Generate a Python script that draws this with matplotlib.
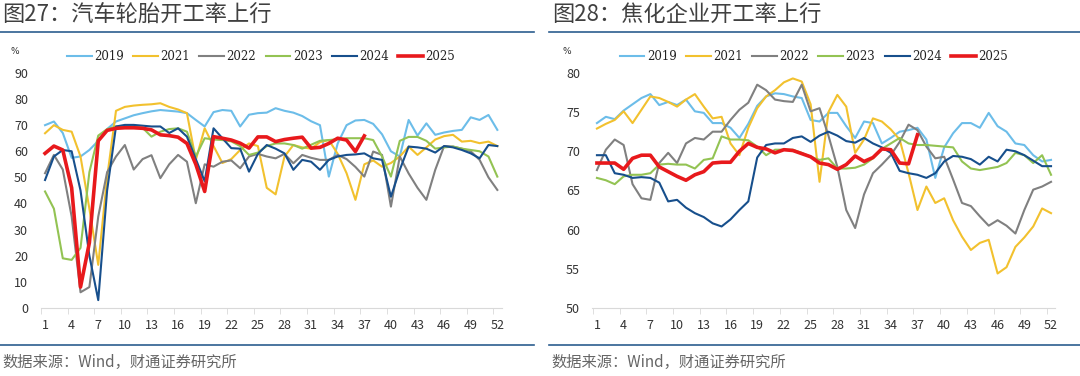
import numpy as np
import matplotlib
matplotlib.use("Agg")
from matplotlib import pyplot as plt

plt.rcParams['font.family'] = ['Noto Sans CJK SC', 'DejaVu Sans']

weeks = np.arange(1, 53)
years = ['2019', '2021', '2022', '2023', '2024', '2025']
colors = ['#6cbde9', '#f2c12e', '#808080', '#93c353', '#174f8c', '#e8191c']

# 图27 汽车轮胎开工率 (%)
tire_2019 = [70, 71.4, 67, 57.5, 58, 60.5, 64, 68.5, 71.4, 72.6, 73.8, 74.6, 75.3, 75.8, 75.5, 75.2,
             74.6, 72, 69.5, 75, 75.8, 75.5, 69.5, 74, 74.6, 74.8, 76.5, 75.5, 74.8, 73.5, 71.5, 70,
             50.3, 63, 70, 71.8, 72, 70.5, 66.5, 60, 58, 72, 66, 70.7, 66.3, 67.2, 67.8, 68.2, 73,
             72, 73.9, 68.2]
tire_2021 = [66.9, 70, 68.2, 67.5, 58, 38, 16.5, 50, 75.5, 77, 77.5, 77.8, 78, 78.4, 77, 76, 74.6,
             56.7, 68.8, 62, 55.5, 57, 60.5, 63, 62, 46, 43.5, 58, 62.4, 61.5, 61, 63.5, 64.3, 59,
             51.6, 41.4, 55, 56.5, 54.1, 55.5, 58, 61.8, 58.6, 61.5, 64.5, 65.8, 66.3, 63.7, 64,
             63.1, 63.7, 62]
tire_2022 = [51.6, 58.6, 53, 35, 6, 8, 35, 52, 58, 62.4, 53, 57, 58.5, 49.7, 55, 58.6, 56, 40.1,
             55, 54.1, 56, 56.5, 53.5, 58, 59, 58, 57.3, 59, 55.4, 58.6, 57.5, 56.7, 56.7, 58.6, 57,
             54, 50.3, 59.9, 58.6, 38.8, 58, 51.5, 46, 41.4, 52.9, 62, 61.8, 61, 60, 56.7, 50, 45.2]
tire_2023 = [44.6, 38, 19, 18.4, 23, 52, 66, 68.5, 69.5, 69.5, 69.5, 69, 65.6, 67.5, 68.5, 68.8,
             67.5, 58, 65, 64.5, 64.3, 63.8, 62, 58.6, 59.5, 62, 63, 63, 62.4, 61, 62.5, 64, 64.3,
             64.6, 65, 65, 65, 64.3, 58, 50.3, 64, 65.5, 65.5, 64, 61, 61.5, 61.8, 61, 60.5, 60,
             58, 50.3]
tire_2024 = [49, 58, 60.5, 60, 45, 20, 3, 45, 69.5, 70.1, 70.1, 69.8, 69.5, 69.5, 67, 68.8, 65.6,
             57, 48.5, 68.8, 65, 61.2, 61, 52.2, 59, 62.4, 61, 59.2, 52.9, 56.7, 56, 52.9, 56.7,
             58, 58.6, 58.8, 59.2, 57.3, 56.7, 42.6, 52.9, 61.8, 61.5, 61, 59.5, 62, 61.5, 60.5,
             59.2, 57.3, 62.4, 62]
tire_2025 = [59.2, 62, 60.5, 46, 8, 25, 64, 68, 68.8, 69, 69, 68.8, 68.2, 66.3, 66, 65.4, 63, 55,
             44.6, 65.6, 65, 64.3, 63.1, 61.2, 65.5, 65.5, 63.7, 64.5, 65, 65.4, 61.2, 61.5, 63,
             65, 64.3, 59.9, 65.9]

# 图28 焦化企业开工率 (%)
coke_2019 = [73.6, 74.4, 74.1, 75.2, 76, 76.8, 77.3, 75.9, 76.3, 75.9, 76.6, 75.1, 74.9, 73.6,
             73.6, 73, 71.7, 73.5, 75.8, 77, 77.4, 77.3, 77, 76.8, 74, 73.8, 74.9, 74.9, 73.2,
             71.7, 73.8, 73.6, 71, 71.7, 72.5, 72.7, 73, 71.5, 66.6, 70.5, 72.3, 73.6, 73.6, 73,
             74.9, 73.2, 72.5, 71, 70.8, 69.5, 68.7, 68.9]
coke_2021 = [72.9, 73.5, 74, 75.1, 73.6, 75.3, 77, 76.8, 76.3, 75.7, 76.6, 77.3, 75.7, 74.2, 74.4,
             71, 69.5, 73, 75.5, 77, 77.8, 78.8, 79.3, 78.9, 76, 66.1, 75, 77.2, 75.7, 69.8, 71.5,
             74.2, 73.8, 72.8, 71.5, 67.2, 62.5, 65.5, 63.4, 64, 61.2, 59.1, 57.4, 58.3, 58.7,
             54.4, 55.2, 57.8, 59, 60.4, 62.7, 62.1]
coke_2022 = [67.6, 70.2, 71.5, 70.8, 65.8, 64, 63.8, 68.5, 69.8, 68.5, 71, 71.7, 71.5, 72.5, 72.5,
             74, 75.3, 76.2, 78.5, 77.8, 76.6, 76.4, 76.3, 78.5, 75.1, 75.5, 72, 68, 62.5, 60.2,
             64.5, 67.2, 68.3, 69.5, 71.2, 73.4, 72.7, 70.6, 69.1, 69.3, 66.4, 63.4, 63, 61.7,
             60.5, 61.2, 60.5, 59.5, 62.5, 65.1, 65.5, 66.1]
coke_2023 = [66.6, 66.3, 65.8, 66.8, 67, 67, 67.2, 68.3, 68.4, 68.3, 68.3, 67.8, 68.9, 69.1, 71.9,
             71.5, 71.5, 71.4, 70.6, 69.5, 70.2, 70.2, 70.2, 69.8, 69.3, 68.9, 69.1, 67.8, 67.8,
             67.9, 68.3, 69.1, 70.3, 71, 71.7, 71, 70.8, 70.8, 70.7, 70.6, 70.5, 68.7, 67.8, 67.6,
             67.8, 68, 68.5, 69.8, 69.5, 68.5, 69.5, 67]
coke_2024 = [69.5, 69.5, 67.2, 67, 66.6, 66.7, 66.6, 66, 63.6, 63.8, 62.8, 62.1, 61.6, 60.8, 60.4,
             61.3, 62.5, 63.6, 69.2, 70.8, 71, 71, 71.7, 71.9, 71.2, 72, 72.5, 72, 71.3, 71.1,
             71.7, 71, 70.5, 69.8, 67.5, 67.2, 67, 66.6, 67.2, 68.7, 69.4, 69.3, 69, 68.3, 69.3,
             68.7, 70.2, 70, 69.5, 68.8, 68.1, 68.1]
coke_2025 = [68.5, 68.5, 68.5, 67.7, 69.1, 69.5, 69.5, 68, 67.4, 66.8, 66.3, 67, 67.4, 68.5, 68.6,
             68.6, 70, 71, 70.5, 70.3, 69.8, 70.2, 70.1, 69.7, 69.3, 68.5, 68.3, 67.7, 68.3, 69.4,
             68.7, 69.2, 70.3, 70.2, 68.5, 68.4, 72.1]

tire = [tire_2019, tire_2021, tire_2022, tire_2023, tire_2024, tire_2025]
coke = [coke_2019, coke_2021, coke_2022, coke_2023, coke_2024, coke_2025]

fig = plt.figure(figsize=(10.8, 3.76), dpi=100)
ax1 = fig.add_axes([0.0376, 0.181, 0.427, 0.625])
ax2 = fig.add_axes([0.5486, 0.181, 0.4287, 0.625])


def draw(ax, series, ylim, yticks):
    for name, vals, c in zip(years, series, colors):
        lw = 2.6 if name == '2025' else 1.5
        ax.plot(weeks[:len(vals)], vals, color=c, lw=lw, label=name,
                zorder=5 if name == '2025' else 3)
    ax.set_xlim(0.5, 52.5)
    ax.set_ylim(*ylim)
    ax.set_yticks(yticks)
    ax.set_xticks(np.arange(1, 53, 3))
    ax.set_xticks(np.arange(1, 53, 3) - 0.45, minor=True)
    for s in ['top', 'right', 'left']:
        ax.spines[s].set_visible(False)
    ax.spines['bottom'].set_color('#d9d9d9')
    ax.tick_params(axis='x', which='major', length=0, pad=8, labelsize=9, labelcolor='#333333')
    ax.tick_params(axis='x', which='minor', length=4, color='#d9d9d9')
    ax.tick_params(axis='y', length=0, pad=9, labelsize=9, labelcolor='#333333')
    ax.text(-0.055, 1.09, '%', transform=ax.transAxes, fontsize=6.5, color='#333333',
            ha='center', va='center', family='DejaVu Sans')
    leg = ax.legend(loc='center', bbox_to_anchor=(0.478, 1.068), ncol=6, frameon=False,
                    handlelength=2.1, handletextpad=0.2, columnspacing=0.8,
                    prop={'family': 'DejaVu Serif', 'size': 8.5})
    for t in leg.get_texts():
        t.set_color('#222222')


draw(ax1, tire, (0, 90), np.arange(0, 91, 10))
draw(ax2, coke, (50, 80), np.arange(50, 81, 5))

# titles, rules and source notes
rule = '#2c5d8f'
fig.text(0.002, 0.958, '图27：汽车轮胎开工率上行', fontsize=16, color='#404040', va='center')
fig.text(0.511, 0.958, '图28：焦化企业开工率上行', fontsize=16, color='#404040', va='center')
fig.add_artist(plt.Line2D([0.0, 0.494], [0.915, 0.915], color=rule, lw=1.2, transform=fig.transFigure))
fig.add_artist(plt.Line2D([0.508, 1.0], [0.915, 0.915], color=rule, lw=1.2, transform=fig.transFigure))
fig.add_artist(plt.Line2D([0.0, 0.494], [0.083, 0.083], color=rule, lw=1.2, transform=fig.transFigure))
fig.add_artist(plt.Line2D([0.508, 1.0], [0.083, 0.083], color=rule, lw=1.2, transform=fig.transFigure))
fig.text(0.002, 0.037, '数据来源：Wind，财通证券研究所', fontsize=11, color='#666666', va='center')
fig.text(0.511, 0.037, '数据来源：Wind，财通证券研究所', fontsize=11, color='#666666', va='center')

fig.savefig('out.png', dpi=100)
